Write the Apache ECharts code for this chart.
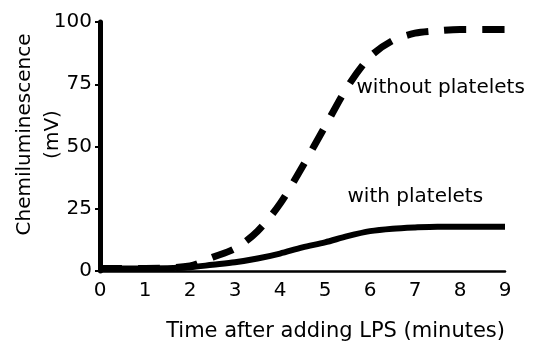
<!DOCTYPE html>
<html>
<head>
<meta charset="utf-8">
<script src="https://cdn.jsdelivr.net/npm/echarts@6/dist/echarts.min.js"></script>
<style>
  html, body { margin: 0; padding: 0; background: #fff; }
  #chart { width: 541px; height: 343px; }
</style>
</head>
<body>
<div id="chart"></div>
<script>
// time after adding LPS (minutes)
const times = [0, 1, 2, 2.5, 3, 3.5, 4, 4.5, 5, 5.5, 6, 6.5, 7, 7.5, 8, 9];
// chemiluminescence (mV)
const withoutPlatelets = [1, 1, 2, 5.5, 9, 16, 27, 42, 58, 74, 86, 92.5, 95.5, 96.5, 97, 97];
const withPlatelets = [1, 1, 1.5, 2.5, 3.5, 5, 7, 9.5, 11.5, 14, 16, 17, 17.5, 17.8, 17.8, 17.8];
const yTicks = [0, 25, 50, 75, 100];

const font = 'DejaVu Sans';
const pairs = (ys) => times.map((t, i) => [t, ys[i]]);

const myChart = echarts.init(document.getElementById('chart'));
const option = {
  animation: false,
  grid: { left: 100, right: 36, top: 22, bottom: 72, outerBoundsMode: 'none', containLabel: false },
  xAxis: {
    type: 'value',
    min: 0, max: 9, interval: 1,
    name: 'Time after adding LPS (minutes)',
    nameLocation: 'end',
    nameGap: 0,
    nameTextStyle: { fontFamily: font, fontSize: 21, color: '#000', align: 'right', verticalAlign: 'top', padding: [50, 0, 0, 0] },
    axisLine: { show: true, lineStyle: { color: '#000', width: 2.5 } },
    axisTick: { show: false },
    axisLabel: { color: '#000', fontFamily: font, fontSize: 20, margin: 10 },
    splitLine: { show: false }
  },
  yAxis: {
    type: 'value',
    min: 0, max: 100, interval: 25,
    name: 'Chemiluminescence\n(mV)',
    nameLocation: 'middle',
    nameGap: 33,
    nameMoveOverlap: false,
    nameRotate: 90,
    nameTextStyle: { fontFamily: font, fontSize: 20, color: '#000', lineHeight: 28, padding: [0, 0, 0, 24] },
    axisLine: { show: true, lineStyle: { color: '#000', width: 5 } },
    axisTick: { show: true, length: 5, lineStyle: { color: '#000', width: 2 } },
    axisLabel: {
      color: '#000', fontFamily: font, fontSize: 20, margin: 8,
      formatter: (v) => yTicks.includes(v) ? String(v) : ''
    },
    splitLine: { show: false }
  },
  series: [
    {
      name: 'without platelets',
      type: 'line',
      data: pairs(withoutPlatelets),
      smooth: 0.3,
      showSymbol: false,
      lineStyle: { color: '#000', width: 7, type: [22, 16], cap: 'butt' }
    },
    {
      name: 'with platelets',
      type: 'line',
      data: pairs(withPlatelets),
      smooth: 0.3,
      showSymbol: false,
      lineStyle: { color: '#000', width: 6 }
    }
  ]
};
myChart.setOption(option);

// curve annotations, placed in data coordinates
const notes = [
  { text: 'without platelets', at: [5.7, 72.6] },
  { text: 'with platelets', at: [5.5, 29] }
];
myChart.setOption({
  graphic: notes.map(n => {
    const p = myChart.convertToPixel({ gridIndex: 0 }, n.at);
    return {
      type: 'text', left: p[0], top: p[1] - 12,
      style: { text: n.text, fontFamily: font, fontSize: 20, fill: '#000' }
    };
  })
});
</script>
</body>
</html>
